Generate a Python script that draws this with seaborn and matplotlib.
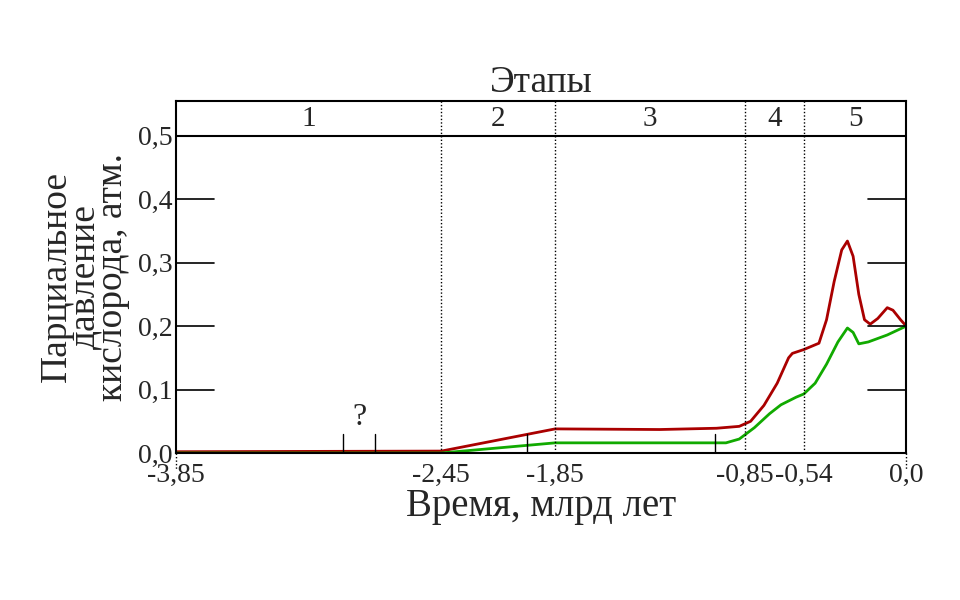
import numpy as np
import pandas as pd
import matplotlib
matplotlib.use("Agg")
import matplotlib.pyplot as plt
import seaborn as sns

sns.set_style("white")
plt.rcParams['font.family'] = ['Liberation Serif', 'DejaVu Serif']

# data (time in billions of years, pressure in atm)
red_t = [-3.85, -2.45, -1.85, -1.3, -1.0, -0.88, -0.82, -0.75, -0.68, -0.62, -0.60, -0.54,
         -0.46, -0.42, -0.38, -0.34, -0.31, -0.28, -0.25, -0.22, -0.19, -0.15, -0.10, -0.07, -0.03, 0.0]
red_p = [0.002, 0.003, 0.038, 0.037, 0.039, 0.042, 0.050, 0.075, 0.11, 0.150, 0.157, 0.163,
         0.173, 0.21, 0.27, 0.32, 0.334, 0.31, 0.25, 0.21, 0.203, 0.212, 0.229, 0.225, 0.21, 0.2]
green_t = [-3.85, -2.45, -1.85, -0.95, -0.88, -0.80, -0.72, -0.66, -0.58, -0.54, -0.48, -0.42,
           -0.36, -0.31, -0.28, -0.25, -0.20, -0.10, 0.0]
green_p = [0.0, 0.0, 0.016, 0.016, 0.022, 0.04, 0.062, 0.076, 0.088, 0.093, 0.11, 0.14,
           0.175, 0.197, 0.19, 0.172, 0.175, 0.186, 0.2]
stage_bounds = [-3.85, -2.45, -1.85, -0.85, -0.54, 0.0]
stage_names = ["1", "2", "3", "4", "5"]
xtick_vals = [-3.85, -2.45, -1.85, -0.85, -0.54, 0.0]
xtick_labels = ["-3,85", "-2,45", "-1,85", "-0,85", "-0,54", "0,0"]
ytick_vals = [0.0, 0.1, 0.2, 0.3, 0.4, 0.5]
ytick_labels = ["0,0", "0,1", "0,2", "0,3", "0,4", "0,5"]
small_marks = [-2.97, -2.80, -2.0, -1.01]

red = pd.DataFrame({"t": red_t, "p": red_p})
green = pd.DataFrame({"t": green_t, "p": green_p})

fig = plt.figure(figsize=(9.6, 6), dpi=100)
ax = fig.add_axes([0.183, 0.245, 0.761, 0.587])
ax.set_xlim(-3.85, 0.0)
ax.set_ylim(0, 0.555)

sns.lineplot(data=red, x="t", y="p", ax=ax, color="#aa0000", lw=2)
sns.lineplot(data=green, x="t", y="p", ax=ax, color="#11aa00", lw=2)

# stage boundaries
for b in stage_bounds[1:-1]:
    ax.axvline(b, color="black", ls=(0, (1, 1.5)), lw=1)
ax.axhline(0.5, color="black", lw=1.5)
for i, name in enumerate(stage_names):
    mid = (stage_bounds[i] + stage_bounds[i + 1]) / 2
    ax.text(mid, 0.527, name, ha="center", va="center", fontsize=21)

# horizontal tick segments inside the plot
for v in ytick_vals[1:5]:
    ax.plot([-3.85, -3.65], [v, v], color="black", lw=1.2)
    ax.plot([-0.2, 0.0], [v, v], color="black", lw=1.2)
for m in small_marks:
    ax.plot([m, m], [0, 0.03], color="black", lw=1)
ax.text(-2.88, 0.033, "?", ha="center", va="bottom", fontsize=23)

ax.set_xticks(xtick_vals)
ax.set_xticklabels(xtick_labels)
ax.set_yticks(ytick_vals)
ax.set_yticklabels(ytick_labels)
ax.tick_params(axis="both", length=0, labelsize=20)
ax.tick_params(axis="x", pad=7)
ax.tick_params(axis="y", pad=2)
for x in [-3.85, 0.0]:
    ax.plot([x, x], [0, -0.025], color="black", ls=(0, (1, 1.5)), lw=1, clip_on=False)
for s in ax.spines.values():
    s.set_linewidth(1.5)
    s.set_color("black")

ax.set_xlabel("Время, млрд лет", fontsize=28, labelpad=0)
ax.set_ylabel("Парциальное\nдавление\nкислорода, атм.", fontsize=27, linespacing=0.75, labelpad=6)
ax.set_title("Этапы", fontsize=27, pad=6)

fig.savefig("out.png", dpi=100)
